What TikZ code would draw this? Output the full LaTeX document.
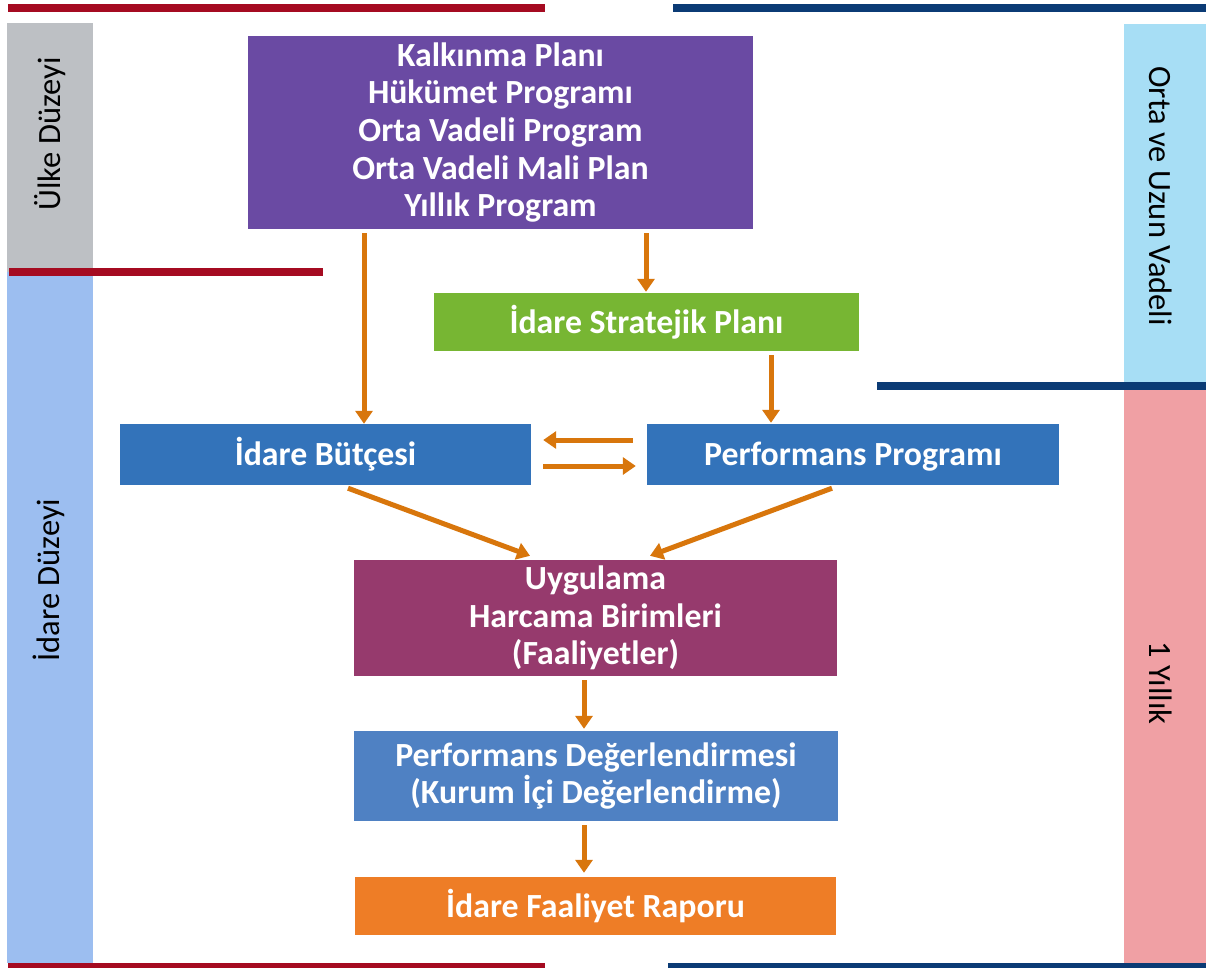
\documentclass[tikz,border=0pt]{standalone}
\usepackage{fontspec}
\setmainfont{Carlito}
\usetikzlibrary{arrows.meta}
\definecolor{cPurple}{HTML}{6A4AA3}
\definecolor{cGreen}{HTML}{77B633}
\definecolor{cBlue}{HTML}{3373BA}
\definecolor{cMag}{HTML}{963A6D}
\definecolor{cBlueB}{HTML}{4F81C3}
\definecolor{cOrange}{HTML}{EE7D26}
\definecolor{cArrow}{HTML}{D8760C}
\definecolor{cGrey}{HTML}{BDC0C4}
\definecolor{cLBlueL}{HTML}{9CBEF0}
\definecolor{cLBlueR}{HTML}{A7DEF5}
\definecolor{cPink}{HTML}{F0A0A4}
\definecolor{cRed}{HTML}{A50B21}
\definecolor{cNavy}{HTML}{0B3B75}
\begin{document}
\begin{tikzpicture}[x=1pt,y=-1pt,
  box/.style={draw=none, text=white, font=\fontsize{33.8}{37.7}\selectfont\bfseries, align=center, inner sep=0pt},
  oneline/.style={text height=22pt, text depth=0pt},
  arr/.style={draw=cArrow, line width=5pt, -{Triangle[length=13pt,width=17pt]}},
  side/.style={font=\fontsize{32.5}{38}\selectfont, text=black, inner sep=0pt}]
\useasboundingbox (0,0) rectangle (1206,967);
\fill[white] (0,0) rectangle (1206,967);
% side bars
\fill[cGrey] (7,23) rectangle (93,272);
\fill[cLBlueL] (7,272) rectangle (93,963);
\fill[cLBlueR] (1124,24) rectangle (1206,386);
\fill[cPink] (1124,386) rectangle (1206,963);
% rule lines
\fill[cRed] (8,4) rectangle (545,12);
\fill[cNavy] (673,4) rectangle (1206,12);
\fill[cRed] (9,268) rectangle (323,276);
\fill[cNavy] (877,382) rectangle (1206,390);
\fill[cRed] (8,963) rectangle (545,971);
\fill[cNavy] (668,963) rectangle (1206,971);
% side labels
\node[side, rotate=90] (ulke) at (50,134) {Ülke Düzeyi};
\node[side, rotate=90] (idare) at (49,580) {İdare Düzeyi};
\node[side, rotate=-90] (orta) at (1161,196) {Orta ve Uzun Vadeli};
\node[side, rotate=-90] (yil) at (1161,683) {1 Yıllık};
% boxes
\node[box, fill=cPurple, minimum width=505pt, minimum height=193pt] (plan) at (500.5,132.5)
  {Kalkınma Planı\\Hükümet Programı\\Orta Vadeli Program\\Orta Vadeli Mali Plan\\Yıllık Program};
\node[box, oneline, fill=cGreen, minimum width=425pt, minimum height=58pt] (sp) at (646.5,322) {İdare Stratejik Planı};
\node[box, oneline, fill=cBlue, minimum width=411pt, minimum height=61pt] (bud) at (325.5,454.5) {İdare Bütçesi};
\node[box, oneline, fill=cBlue, minimum width=412pt, minimum height=61pt] (perf) at (853,454.5) {Performans Programı};
\node[box, fill=cMag, minimum width=483pt, minimum height=116pt] (uyg) at (595.5,618) {Uygulama\\Harcama Birimleri\\(Faaliyetler)};
\node[box, fill=cBlueB, minimum width=484pt, minimum height=90pt] (deg) at (596,776) {Performans Değerlendirmesi\\(Kurum İçi Değerlendirme)};
\node[box, oneline, fill=cOrange, minimum width=481pt, minimum height=58pt] (rap) at (595.5,906) {İdare Faaliyet Raporu};
% connectors
\draw[arr] ([shift={(-136.5pt,-4pt)}]plan.south) -- ([shift={(38.5pt,0pt)}]bud.north);
\draw[arr] ([shift={(145.5pt,-4pt)}]plan.south) -- ([shift={(-0.5pt,1pt)}]sp.north);
\draw[arr] ([shift={(124.5pt,-4pt)}]sp.south) -- ([shift={(-82pt,1pt)}]perf.north);
\draw[arr] ([shift={(-14pt,14.5pt)}]perf.west) -- ([shift={(12pt,14.5pt)}]bud.east);
\draw[arr] ([shift={(12pt,-11.5pt)}]bud.east) -- ([shift={(-11pt,-11.5pt)}]perf.west);
\draw[arr] ([shift={(22.5pt,-3pt)}]bud.south) -- ([shift={(-65.5pt,4pt)}]uyg.north);
\draw[arr] ([shift={(-21pt,-3pt)}]perf.south) -- ([shift={(54.5pt,4pt)}]uyg.north);
\draw[arr] ([shift={(-11.5pt,-4pt)}]uyg.south) -- ([shift={(-12pt,2pt)}]deg.north);
\draw[arr] ([shift={(-12pt,-4pt)}]deg.south) -- ([shift={(-11.5pt,4pt)}]rap.north);
\end{tikzpicture}
\end{document}
